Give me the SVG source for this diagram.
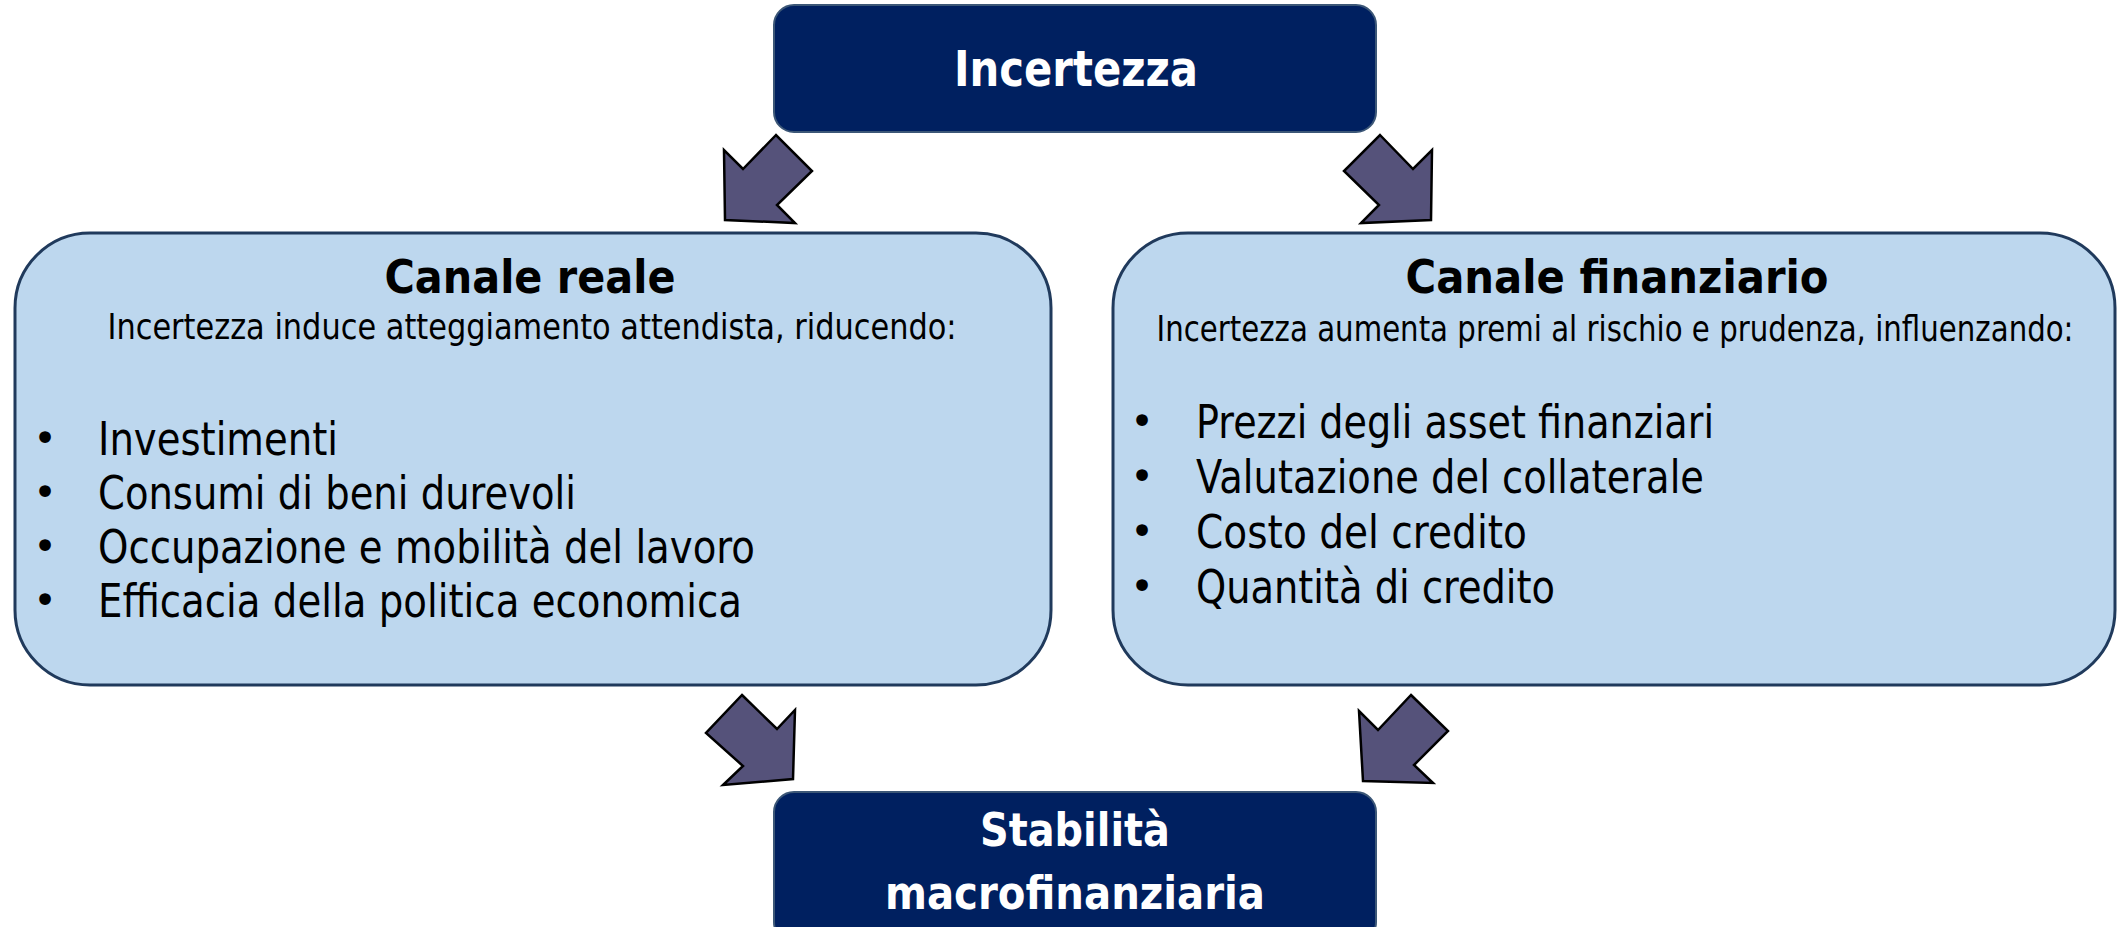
<svg xmlns="http://www.w3.org/2000/svg" width="2118" height="927" viewBox="0 0 2118 927">
<style>
.dark{fill:#002060;stroke:#3C5777;stroke-width:2}
.light{fill:#BDD7EE;stroke:#203A5C;stroke-width:3}
.arrow{fill:#55527A;stroke:#000;stroke-width:2.5;stroke-linejoin:miter}
.wt{font-family:"DejaVu Sans",sans-serif;font-weight:bold;fill:#fff;text-anchor:middle}
.tt{font-family:"DejaVu Sans",sans-serif;font-weight:bold;fill:#000;text-anchor:middle;font-size:46px}
.st{font-family:"DejaVu Sans",sans-serif;fill:#000;text-anchor:middle;font-size:36px}
.bt{font-family:"DejaVu Sans",sans-serif;fill:#000;font-size:47px}
.bu{font-family:"DejaVu Sans",sans-serif;fill:#000;font-size:40px;text-anchor:middle}
</style>
<rect width="2118" height="927" fill="#fff"/>
<g id="connectors">
<polygon class="arrow" points="776,135 743,169 724,150 725,220 795,223 777,205 812,171"/>
<polygon class="arrow" points="1380,135 1413,169 1432,150 1431,220 1361,223 1379,205 1344,171"/>
<polygon class="arrow" points="742,695 777,729 795,710 793,779 723,785 743,766 706,733"/>
<polygon class="arrow" points="1411,695 1448,731 1414,765 1433,783 1363,781 1359,711 1378,730"/>
</g>
<g id="incertezza">
<rect class="dark" x="774" y="5" width="602" height="127" rx="20"/>
<text class="wt" x="1076" y="86" font-size="50" textLength="244" lengthAdjust="spacingAndGlyphs">Incertezza</text>
</g>
<g id="canale-reale">
<rect class="light" x="15" y="233" width="1036" height="452" rx="75"/>
<text class="tt" x="530" y="293" textLength="291" lengthAdjust="spacingAndGlyphs">Canale reale</text>
<text class="st" transform="translate(532,339) scale(0.85,1)" x="0" y="0" textLength="999" lengthAdjust="spacingAndGlyphs">Incertezza induce atteggiamento attendista, riducendo:</text>
<text class="bu" x="45" y="452">•</text>
<text class="bt" x="98" y="455" textLength="240" lengthAdjust="spacingAndGlyphs">Investimenti</text>
<text class="bu" x="45" y="506">•</text>
<text class="bt" x="98" y="509" textLength="478" lengthAdjust="spacingAndGlyphs">Consumi di beni durevoli</text>
<text class="bu" x="45" y="560">•</text>
<text class="bt" x="98" y="563" textLength="657" lengthAdjust="spacingAndGlyphs">Occupazione e mobilità del lavoro</text>
<text class="bu" x="45" y="614">•</text>
<text class="bt" x="98" y="617" textLength="644" lengthAdjust="spacingAndGlyphs">Efficacia della politica economica</text>
</g>
<g id="canale-finanziario">
<rect class="light" x="1113" y="233" width="1002" height="452" rx="75"/>
<text class="tt" x="1617" y="293" textLength="423" lengthAdjust="spacingAndGlyphs">Canale finanziario</text>
<text class="st" transform="translate(1615,341) scale(0.81,1)" x="0" y="0" textLength="1132" lengthAdjust="spacingAndGlyphs">Incertezza aumenta premi al rischio e prudenza, influenzando:</text>
<text class="bu" x="1142" y="435">•</text>
<text class="bt" x="1196" y="438" textLength="518" lengthAdjust="spacingAndGlyphs">Prezzi degli asset finanziari</text>
<text class="bu" x="1142" y="490">•</text>
<text class="bt" x="1196" y="493" textLength="508" lengthAdjust="spacingAndGlyphs">Valutazione del collaterale</text>
<text class="bu" x="1142" y="545">•</text>
<text class="bt" x="1196" y="548" textLength="331" lengthAdjust="spacingAndGlyphs">Costo del credito</text>
<text class="bu" x="1142" y="600">•</text>
<text class="bt" x="1196" y="603" textLength="359" lengthAdjust="spacingAndGlyphs">Quantità di credito</text>
</g>
<g id="stabilita">
<rect class="dark" x="774" y="792" width="602" height="150" rx="20"/>
<text class="wt" x="1075" y="846" font-size="47" textLength="190" lengthAdjust="spacingAndGlyphs">Stabilità</text>
<text class="wt" x="1075" y="909" font-size="47" textLength="380" lengthAdjust="spacingAndGlyphs">macrofinanziaria</text>
</g>
</svg>
